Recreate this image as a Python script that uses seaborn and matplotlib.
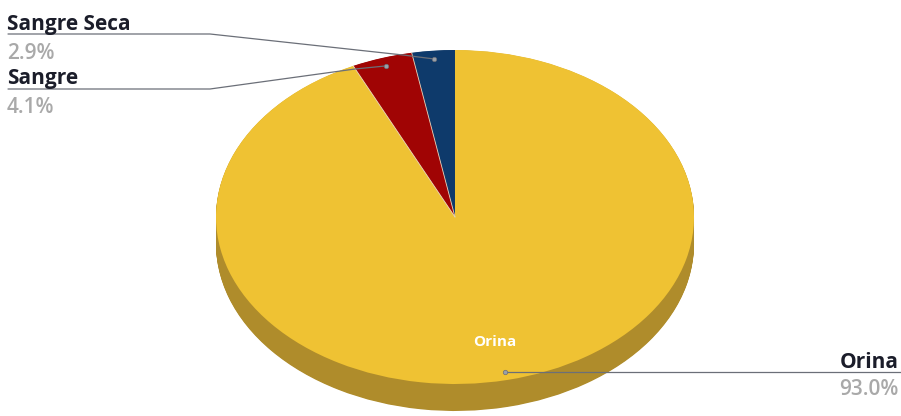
import numpy as np
import matplotlib
matplotlib.use("Agg")
import matplotlib.pyplot as plt
import seaborn as sns

# Sample composition
categories = ["Sangre Seca", "Sangre", "Orina"]
values = [2.9, 4.1, 93.0]
top_colors = ["#0E3A6B", "#A00404", "#EFC233"]
side_colors = ["#0A2A4E", "#700303", "#AF8C2B"]

sns.set_theme(style="white")
plt.rcParams["font.family"] = ["Open Sans", "DejaVu Sans"]

W, H = 901, 416
fig = plt.figure(figsize=(W / 100, H / 100), dpi=100)
ax = fig.add_axes([0, 0, 1, 1])

# ellipse geometry in pixels: centre, semi-axes, thickness
cx, cy = 455, 217
ax_px, ay_px = 239, 167
depth_px = 27

def px(x):
    return (x - cx) / ax_px

def py(y):
    return (cy - y) / ay_px

# side of the disc: stacked copies shifted downwards
for off in np.linspace(depth_px / ay_px, 0.002, 40):
    ax.pie(values, colors=side_colors, startangle=90, counterclock=True,
           center=(0, -off), radius=1.0,
           wedgeprops=dict(linewidth=0))

# top face
wedges, _ = ax.pie(values, colors=top_colors, startangle=90, counterclock=True,
                   center=(0, 0), radius=1.0,
                   wedgeprops=dict(linewidth=0))

ax.set_aspect("auto")
ax.set_xlim(px(0), px(W))
ax.set_ylim(py(H), py(0))
ax.axis("off")

total = sum(values)
angles = []
start = 90.0
for v in values:
    span = 360.0 * v / total
    angles.append(np.deg2rad(start + span / 2))
    start += span

# thin light separators between slices
edge = 90.0
for v in values[:-1]:
    edge += 360.0 * v / total
    t = np.deg2rad(edge)
    ax.plot([0, np.cos(t)], [0, np.sin(t)], color="#e9d9c0", lw=0.6, zorder=4)

def anchor(i, r=0.95):
    return r * np.cos(angles[i]), r * np.sin(angles[i])

line_kw = dict(color="#6b6f78", lw=0.9, zorder=5)
dot_kw = dict(marker="o", ms=3.2, color="#9aa0a8", mec="#6b6f78", mew=0.5, zorder=6)
name_kw = dict(fontsize=15, fontweight="bold", color="#1b1d2a", zorder=6)
pct_kw = dict(fontsize=15, fontweight="semibold", color="#a9a9a9", zorder=6)

# Sangre Seca leader
x0, y0 = anchor(0)
ax.plot([px(8), px(210), px(403), x0], [py(34), py(34), py(55), y0], **line_kw)
ax.plot([x0], [y0], **dot_kw)
ax.text(px(7), py(30), categories[0], ha="left", va="baseline", **name_kw)
ax.text(px(7), py(59), f"{values[0]:.1f}%", ha="left", va="baseline", **pct_kw)

# Sangre leader
x1, y1 = anchor(1)
ax.plot([px(8), px(210), px(355), x1], [py(89), py(89), py(69), y1], **line_kw)
ax.plot([x1], [y1], **dot_kw)
ax.text(px(7), py(84), categories[1], ha="left", va="baseline", **name_kw)
ax.text(px(7), py(113), f"{values[1]:.1f}%", ha="left", va="baseline", **pct_kw)

# Orina leader
x2, y2 = anchor(2)
ax.plot([x2, px(W)], [y2, y2], **line_kw)
ax.plot([x2], [y2], **dot_kw)
ax.text(px(899), py(368), categories[2], ha="right", va="baseline", **name_kw)
ax.text(px(899), py(395), f"{values[2]:.1f}%", ha="right", va="baseline", **pct_kw)

# label inside the large slice
xi, yi = 0.77 * np.cos(angles[2]), 0.77 * np.sin(angles[2])
ax.text(xi, yi, categories[2], ha="center", va="center", fontsize=11,
        fontweight="bold", color="white", zorder=6)

fig.savefig("out.png", dpi=100, facecolor="white")
